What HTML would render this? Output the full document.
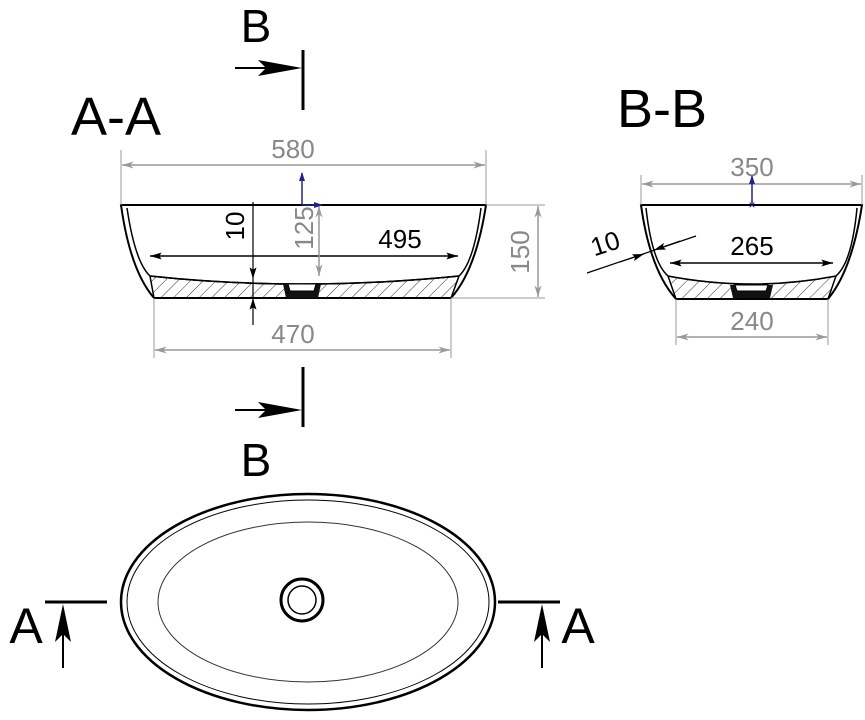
<!DOCTYPE html>
<html><head><meta charset="utf-8"><style>html,body{margin:0;padding:0;background:#fff}svg{display:block}</style></head>
<body>
<svg width="865" height="720" viewBox="0 0 865 720" xmlns="http://www.w3.org/2000/svg" font-family="Liberation Sans, Arial, sans-serif">
<defs>
<pattern id="h" width="9" height="9" patternUnits="userSpaceOnUse" patternTransform="rotate(45)"><line x1="0" y1="0" x2="0" y2="9" stroke="#333" stroke-width="1"/></pattern>
<marker id="ga" viewBox="0 0 10 6" refX="10" refY="3" markerWidth="16" markerHeight="7" markerUnits="userSpaceOnUse" orient="auto-start-reverse"><path d="M0,0 L10,3 L0,6 L3,3z" fill="#999"/></marker>
<marker id="ba" viewBox="0 0 10 6" refX="10" refY="3" markerWidth="16" markerHeight="7" markerUnits="userSpaceOnUse" orient="auto-start-reverse"><path d="M0,0 L10,3 L0,6 L2,3z" fill="#000"/></marker>
</defs>

<!-- Labels -->
<text x="116" y="135" font-size="54" text-anchor="middle">A-A</text>
<text x="662" y="127" font-size="54" text-anchor="middle">B-B</text>
<text x="256" y="42" font-size="46" text-anchor="middle">B</text>
<text x="256" y="476" font-size="46" text-anchor="middle">B</text>

<!-- B section markers -->
<line x1="303" y1="50" x2="303" y2="110" stroke="#000" stroke-width="3"/>
<line x1="235" y1="68" x2="270" y2="68" stroke="#000" stroke-width="2"/>
<path d="M258,60 L302,68 L258,76 L266,68z" fill="#000"/>
<line x1="303" y1="367" x2="303" y2="427" stroke="#000" stroke-width="3"/>
<line x1="235" y1="410" x2="270" y2="410" stroke="#000" stroke-width="2"/>
<path d="M258,402 L302,410 L258,418 L266,410z" fill="#000"/>

<!-- A-A section -->
<path d="M121,205 L486,205 Q476,270 451,298 L154,298 Q130,270 121,205z" fill="#fff" stroke="#000" stroke-width="2"/>
<path d="M150,276 Q300,292 459,276 L451,298 L154,298z" fill="url(#h)" stroke="#000" stroke-width="1.5"/>
<path d="M127,208 Q135,262 150,276 Q300,292 459,276 Q474,262 481,208" fill="#fff" stroke="#000" stroke-width="1.5"/>
<path d="M150,276 Q300,292 459,276" fill="none" stroke="#000" stroke-width="1.5"/>
<path d="M283,284 L321,284 L318,298 L286,298z" fill="#111"/>
<path d="M288,284 L316,284 L314,291 L290,291z" fill="#fff" stroke="#000"/>
<!-- dims -->
<line x1="121" y1="150" x2="121" y2="205" stroke="#999"/>
<line x1="486" y1="150" x2="486" y2="205" stroke="#999"/>
<line x1="122" y1="165" x2="485" y2="165" stroke="#999" stroke-width="1.5" marker-start="url(#ga)" marker-end="url(#ga)"/>
<text x="293" y="158" font-size="26" fill="#888" text-anchor="middle">580</text>
<line x1="154" y1="298" x2="154" y2="358" stroke="#999"/>
<line x1="451" y1="298" x2="451" y2="358" stroke="#999"/>
<line x1="155" y1="350" x2="450" y2="350" stroke="#999" stroke-width="1.5" marker-start="url(#ga)" marker-end="url(#ga)"/>
<text x="293" y="343" font-size="26" fill="#888" text-anchor="middle">470</text>
<line x1="486" y1="205" x2="545" y2="205" stroke="#999"/>
<line x1="451" y1="298" x2="545" y2="298" stroke="#999"/>
<line x1="538" y1="206" x2="538" y2="297" stroke="#999" stroke-width="1.5" marker-start="url(#ga)" marker-end="url(#ga)"/>
<text transform="translate(529,252) rotate(-90)" font-size="26" fill="#888" text-anchor="middle">150</text>
<line x1="150" y1="256" x2="458" y2="256" stroke="#000" stroke-width="1.5" marker-start="url(#ba)" marker-end="url(#ba)"/>
<text x="400" y="248" font-size="26" text-anchor="middle">495</text>
<line x1="253" y1="202" x2="253" y2="325" stroke="#000" stroke-width="1.2"/>
<line x1="253" y1="262" x2="253" y2="279" stroke="#000" marker-end="url(#ba)"/>
<line x1="253" y1="312" x2="253" y2="298" stroke="#000" marker-end="url(#ba)"/>
<text transform="translate(244,226) rotate(-90)" font-size="26" text-anchor="middle">10</text>
<line x1="319" y1="206" x2="319" y2="276" stroke="#999" stroke-width="1.5" marker-start="url(#ga)" marker-end="url(#ga)"/>
<text transform="translate(313,228) rotate(-90)" font-size="26" fill="#888" text-anchor="middle">125</text>
<line x1="302" y1="205" x2="302" y2="173" stroke="#22228a" stroke-width="1.5"/>
<path d="M299,181 L302,172 L305,181z" fill="#22228a"/>
<line x1="302" y1="205" x2="322" y2="205" stroke="#22228a" stroke-width="1.5"/>
<path d="M314,202 L323,205 L314,208z" fill="#22228a"/>

<!-- B-B section -->
<path d="M641,205 L862,205 Q852,270 828,299 L676,299 Q650,270 641,205z" fill="#fff" stroke="#000" stroke-width="2"/>
<path d="M668,276 Q752,292 836,276 L828,299 L676,299z" fill="url(#h)" stroke="#000" stroke-width="1.5"/>
<path d="M646,208 Q652,262 668,276 Q752,292 836,276 Q852,262 857,208" fill="#fff" stroke="#000" stroke-width="1.5"/>
<path d="M730,285 L773,285 L770,298 L733,298z" fill="#111"/>
<path d="M735,285 L768,285 L766,291 L737,291z" fill="#fff" stroke="#000"/>
<line x1="641" y1="175" x2="641" y2="205" stroke="#999"/>
<line x1="862" y1="175" x2="862" y2="205" stroke="#999"/>
<line x1="642" y1="184" x2="861" y2="184" stroke="#999" stroke-width="1.5" marker-start="url(#ga)" marker-end="url(#ga)"/>
<text x="752" y="176" font-size="26" fill="#888" text-anchor="middle">350</text>
<line x1="752" y1="205" x2="752" y2="176" stroke="#22228a" stroke-width="1.5"/>
<path d="M749,184 L752,175 L755,184z" fill="#22228a"/>
<text x="752" y="209" font-size="12" fill="#22228a" text-anchor="middle">×</text>
<line x1="676" y1="299" x2="676" y2="345" stroke="#999"/>
<line x1="828" y1="299" x2="828" y2="345" stroke="#999"/>
<line x1="677" y1="337" x2="827" y2="337" stroke="#999" stroke-width="1.5" marker-start="url(#ga)" marker-end="url(#ga)"/>
<text x="752" y="330" font-size="26" fill="#888" text-anchor="middle">240</text>
<line x1="670" y1="263" x2="833" y2="263" stroke="#000" stroke-width="1.5" marker-start="url(#ba)" marker-end="url(#ba)"/>
<text x="752" y="255" font-size="26" text-anchor="middle">265</text>
<line x1="587" y1="273" x2="696" y2="236" stroke="#000" stroke-width="1.2"/>
<line x1="620" y1="262" x2="644" y2="254" stroke="#000" marker-end="url(#ba)"/>
<line x1="680" y1="241" x2="654" y2="250" stroke="#000" marker-end="url(#ba)"/>
<text transform="translate(608,252) rotate(-18)" font-size="26" text-anchor="middle">10</text>

<!-- Plan view -->
<ellipse cx="308" cy="602" rx="187" ry="108" fill="none" stroke="#000" stroke-width="2.5"/>
<ellipse cx="308" cy="602" rx="181" ry="102" fill="none" stroke="#000" stroke-width="1"/>
<ellipse cx="308" cy="602" rx="150" ry="80" fill="none" stroke="#333" stroke-width="1"/>
<circle cx="302" cy="600" r="21" fill="none" stroke="#000" stroke-width="3"/>
<circle cx="302" cy="600" r="14" fill="none" stroke="#000" stroke-width="1.5"/>

<!-- A markers -->
<line x1="45" y1="602" x2="107" y2="602" stroke="#000" stroke-width="3"/>
<line x1="63" y1="668" x2="63" y2="630" stroke="#000" stroke-width="2"/>
<path d="M55,642 L63,604 L71,642 L63,634z" fill="#000"/>
<text x="26" y="643" font-size="50" text-anchor="middle">A</text>
<line x1="498" y1="602" x2="560" y2="602" stroke="#000" stroke-width="3"/>
<line x1="542" y1="668" x2="542" y2="630" stroke="#000" stroke-width="2"/>
<path d="M534,642 L542,604 L550,642 L542,634z" fill="#000"/>
<text x="578" y="643" font-size="50" text-anchor="middle">A</text>
</svg>
</body></html>
